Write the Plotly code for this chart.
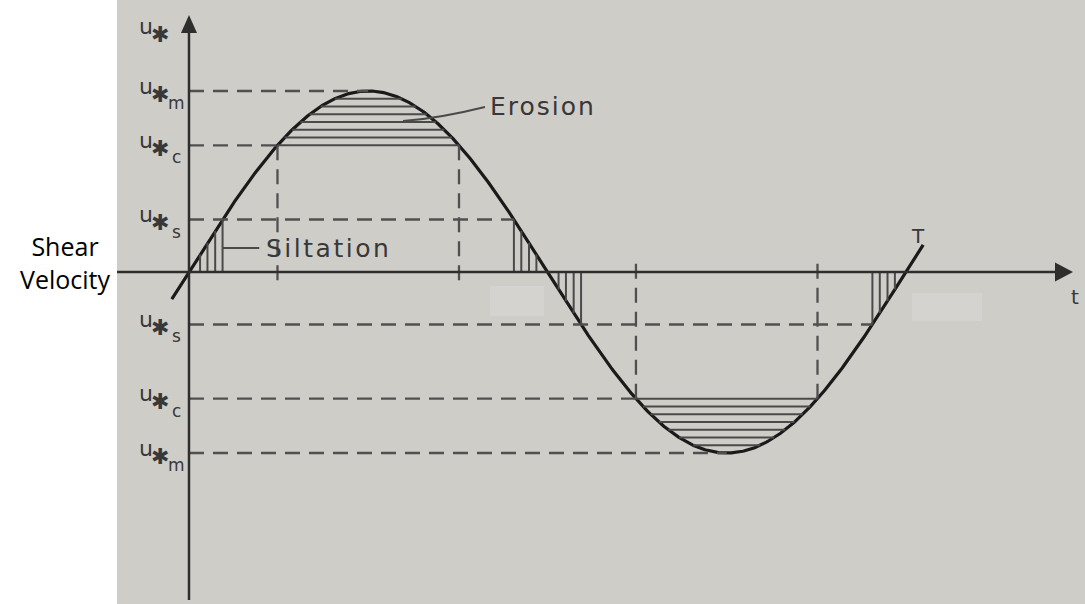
import numpy as np
import plotly.graph_objects as go

# Shear velocity over one tidal period T (schematic)
PERIOD = 1.0
LEVEL_KEYS = ["m", "c", "s"]          # maximum, critical (erosion), siltation
LEVEL_VALUES = [1.0, 0.70, 0.29]      # u* levels relative to u*m
SILT_FRACTIONS = [0.33, 0.55, 0.78, 1.0]
N_EROSION_LINES = 7
T_START, T_END = -0.024, 1.024

U_M, U_C, U_S = LEVEL_VALUES

# view window
X_RANGE = [-0.2636, 1.2497]
Y_RANGE = [-1.8343, 1.5028]
X_AXIS_LEFT, X_AXIS_TIP = -0.1004, 1.233
Y_AXIS_BOTTOM, Y_AXIS_TIP = -1.812, 1.42

INK = "#1a1a1a"
AXIS_INK = "#2e2e2e"
DASH_INK = "#505050"
HATCH_INK = "#4a4a4a"
TEXT_INK = "#383838"
PHOTO_BG = "#cfcdc8"
PATCH_BG = "#d4d3cf"
FONT = "DejaVu Sans"
DASH = "15px,9px"


def u_of(t):
    return U_M * np.sin(2 * np.pi * t / PERIOD)


def t_at(level):
    """first time (rising) at which u reaches the given level"""
    return PERIOD * np.arcsin(level / U_M) / (2 * np.pi)


t_c = t_at(U_C)
t_s = t_at(U_S)

t = np.linspace(T_START, T_END, 600)
fig = go.Figure()

shapes = []


def seg(x0, y0, x1, y1, color, width, dash=None, layer="above"):
    d = dict(type="line", x0=x0, y0=y0, x1=x1, y1=y1, xref="x", yref="y",
             line=dict(color=color, width=width), layer=layer)
    if dash:
        d["line"]["dash"] = dash
    shapes.append(d)


# photograph backdrop with two lighter patches
shapes.append(dict(type="rect", xref="paper", yref="paper", x0=117 / 1085, x1=1, y0=0, y1=1,
                   fillcolor=PHOTO_BG, line_width=0, layer="below"))
for px0, px1, py0, py1 in ((490, 544, 286, 316), (912, 982, 293, 321)):
    shapes.append(dict(type="rect", xref="paper", yref="paper",
                       x0=px0 / 1085, x1=px1 / 1085, y0=1 - py1 / 604, y1=1 - py0 / 604,
                       fillcolor=PATCH_BG, line_width=0, layer="below"))

# dashed level lines
seg(0, U_M, 0.25 * PERIOD, U_M, DASH_INK, 2.3, DASH)
seg(0, U_C, t_c, U_C, DASH_INK, 2.3, DASH)
seg(0, U_S, 0.5 * PERIOD - t_s, U_S, DASH_INK, 2.3, DASH)
seg(0, -U_S, PERIOD - t_s, -U_S, DASH_INK, 2.3, DASH)
seg(0, -U_C, 0.5 * PERIOD + t_c, -U_C, DASH_INK, 2.3, DASH)
seg(0, -U_M, 0.75 * PERIOD, -U_M, DASH_INK, 2.3, DASH)

# dashed verticals where u* crosses the critical level
for tv in (t_c, 0.5 * PERIOD - t_c):
    seg(tv, U_C, tv, -0.06, DASH_INK, 2.3, DASH)
for tv in (0.5 * PERIOD + t_c, PERIOD - t_c):
    seg(tv, -U_C, tv, 0.08, DASH_INK, 2.3, DASH)

# erosion hatching (horizontal lines above the critical level)
for lv in np.linspace(U_C, U_M, N_EROSION_LINES + 1)[:-1]:
    a = t_at(lv)
    seg(a, lv, 0.5 * PERIOD - a, lv, HATCH_INK, 2)
    seg(0.5 * PERIOD + a, -lv, PERIOD - a, -lv, HATCH_INK, 2)

# siltation hatching (vertical lines below the siltation level)
for f in SILT_FRACTIONS:
    for tv in (f * t_s, 0.5 * PERIOD - f * t_s, 0.5 * PERIOD + f * t_s, PERIOD - f * t_s):
        seg(tv, 0, tv, float(u_of(tv)), HATCH_INK, 2)

# axes
seg(X_AXIS_LEFT, 0, X_AXIS_TIP - 0.02, 0, AXIS_INK, 2.5)
seg(0, Y_AXIS_BOTTOM, 0, Y_AXIS_TIP - 0.05, AXIS_INK, 2.5)
shapes.append(dict(type="path", xref="x", yref="y", xsizemode="pixel", ysizemode="pixel",
                   xanchor=0, yanchor=Y_AXIS_TIP, path="M0,0 L-8,-18 L8,-18 Z",
                   fillcolor=AXIS_INK, line_width=0))
shapes.append(dict(type="path", xref="x", yref="y", xsizemode="pixel", ysizemode="pixel",
                   xanchor=X_AXIS_TIP, yanchor=0, path="M0,0 L-18,9.5 L-18,-9.5 Z",
                   fillcolor=AXIS_INK, line_width=0))

# leader lines for the labels
shapes.append(dict(type="path", xref="x", yref="y",
                   path="M0.2985,0.834 Q0.35,0.85 0.4128,0.912",
                   line=dict(color=HATCH_INK, width=2)))
seg(0.046, 0.1326, 0.098, 0.1326, HATCH_INK, 2)

# shear velocity curve
fig.add_trace(go.Scatter(x=t, y=u_of(t), mode="lines",
                         line=dict(color=INK, width=3.2), hoverinfo="skip"))

annotations = []


def text(x, y, s, size, xanchor="center", xshift=0, yshift=0, color=TEXT_INK, family=FONT):
    annotations.append(dict(x=x, y=y, xref="x", yref="y", text=s, showarrow=False,
                            xanchor=xanchor, yanchor="middle", xshift=xshift, yshift=yshift,
                            font=dict(family=family, size=size, color=color)))


def u_star_label(y, sub=None, u_dy=5):
    text(0, y, "u", 22, xshift=-43, yshift=u_dy)
    text(0, y, "✱", 22, xshift=-29, yshift=u_dy - 8)
    if sub:
        text(0, y, sub, 17, xshift=-12, yshift=u_dy - 17)


u_star_label(Y_AXIS_TIP, None, u_dy=-12)
for key, val in zip(LEVEL_KEYS, LEVEL_VALUES):
    u_star_label(val, key)
    u_star_label(-val, key)

text(0.417, 0.912, '<span style="letter-spacing:2px">Erosion</span>', 25, xanchor="left")
text(0.105, 0.1326, '<span style="letter-spacing:2.5px">Siltation</span>', 25, xanchor="left")
text(1.017, 0.199, "T", 20)
text(1.236, -0.138, "t", 20)

annotations.append(dict(x=65 / 1085, y=1 - 262 / 604, xref="paper", yref="paper",
                        text="Shear<br>Velocity", showarrow=False, xanchor="center",
                        yanchor="middle", align="center",
                        font=dict(family="Open Sans", size=25, color="#000000")))

fig.update_layout(
    width=1085, height=604,
    margin=dict(l=0, r=0, t=0, b=0),
    paper_bgcolor="#ffffff", plot_bgcolor="rgba(0,0,0,0)",
    showlegend=False,
    xaxis=dict(range=X_RANGE, visible=False, fixedrange=True),
    yaxis=dict(range=Y_RANGE, visible=False, fixedrange=True),
    shapes=shapes, annotations=annotations,
)

fig.write_html("out.html")
